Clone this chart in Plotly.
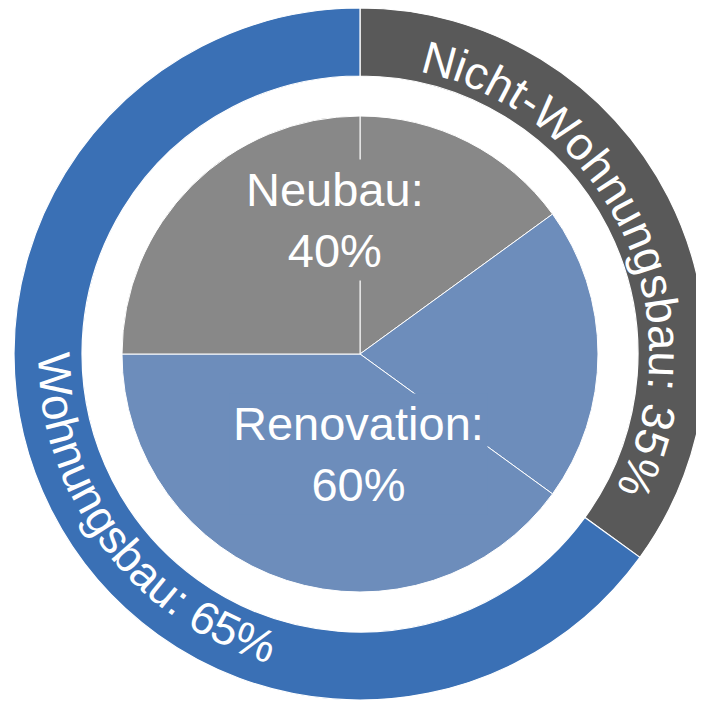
import math
import plotly.graph_objects as go

# ---------------- data ----------------
outer_labels = ["Nicht-Wohnungsbau", "Wohnungsbau"]
outer_values = [35, 65]
outer_colors = ["#595959", "#3A70B5"]

inner_labels = ["Neubau (Nicht-Wohnungsbau)", "Renovation (Nicht-Wohnungsbau)",
                "Renovation (Wohnungsbau)", "Neubau (Wohnungsbau)"]
inner_values = [15, 20, 40, 25]
inner_colors = ["#888888", "#6D8DBB", "#6D8DBB", "#888888"]

summary_labels = ["Neubau", "Renovation"]
summary_values = [40, 60]
summary_colors = ["#888888", "#6D8DBB"]

# ---------------- layout constants ----------------
W, H = 704, 702
PAGE = 8            # default page margin of the html body
CX, CY = 360 - PAGE, 354 - PAGE
R_OUT = 346
R_HOLE = 278
R_IN = 238
FONT = "Liberation Sans, Arial, sans-serif"


def dom(cx, cy, r):
    return dict(x=[max(0, (cx - r) / W), min(1, (cx + r) / W)],
                y=[max(0, 1 - (cy + r) / H), min(1, 1 - (cy - r) / H)])


fig = go.Figure()
fig.add_trace(go.Pie(
    labels=outer_labels, values=outer_values, sort=False, direction="clockwise",
    rotation=0, hole=R_HOLE / R_OUT, textinfo="none", showlegend=False,
    marker=dict(colors=outer_colors, line=dict(color="white", width=1.2)),
    domain=dom(CX, CY, R_OUT)))
fig.add_trace(go.Pie(
    labels=inner_labels, values=inner_values, sort=False, direction="clockwise",
    rotation=0, textinfo="none", showlegend=False,
    marker=dict(colors=inner_colors, line=dict(color="white", width=1)),
    domain=dom(CX, CY, R_IN)))

# Arial / Liberation Sans advance widths (em)
WID = {" ": .278, "%": .889, "-": .333, ":": .278, "3": .556, "5": .556, "6": .556,
       "N": .722, "W": .944, "a": .556, "b": .556, "c": .5, "g": .556, "h": .556,
       "i": .222, "n": .556, "o": .556, "s": .5, "t": .278, "u": .556}


def arc_text(text, center_deg, r_c, size, outward):
    base = r_c - 0.35 * size if outward else r_c + 0.35 * size
    deg_per_em = math.degrees(size / base)
    total = sum(WID.get(c, .556) for c in text)
    pos = -total / 2
    anns = []
    for ch in text:
        w = WID.get(ch, .556)
        mid = pos + w / 2
        pos += w
        if ch == " ":
            continue
        if outward:
            th = center_deg + mid * deg_per_em
            ang = th
        else:
            th = center_deg - mid * deg_per_em
            ang = th - 180
        ang = (ang + 180) % 360 - 180
        t = math.radians(th)
        x = CX + r_c * math.sin(t)
        y = CY - r_c * math.cos(t)
        anns.append(dict(x=x / W, y=1 - y / H, xref="paper", yref="paper", text=ch,
                         showarrow=False, textangle=ang, xanchor="center", yanchor="middle",
                         font=dict(family=FONT, size=size, color="white")))
    return anns


annotations = []
annotations += arc_text(f"{outer_labels[0]}: {outer_values[0]}%", 64.8, 305, 46, True)
annotations += arc_text(f"{outer_labels[1]}: {outer_values[1]}%", 233.2, 306, 46, False)

inner_pos = [(335 - PAGE, 220 - PAGE), (358 - PAGE, 454 - PAGE)]
for lab, val, col, (px, py) in zip(summary_labels, summary_values, summary_colors, inner_pos):
    annotations.append(dict(x=px / W, y=1 - py / H, xref="paper", yref="paper",
                            text=f"{lab}:<br>{val}%", showarrow=False, bgcolor=col,
                            borderpad=3, xanchor="center", yanchor="middle",
                            font=dict(family=FONT, size=47, color="white")))

fig.update_layout(width=W, height=H, margin=dict(l=0, r=0, t=0, b=0),
                  paper_bgcolor="white", plot_bgcolor="white",
                  annotations=annotations)
fig.write_html("out.html")
